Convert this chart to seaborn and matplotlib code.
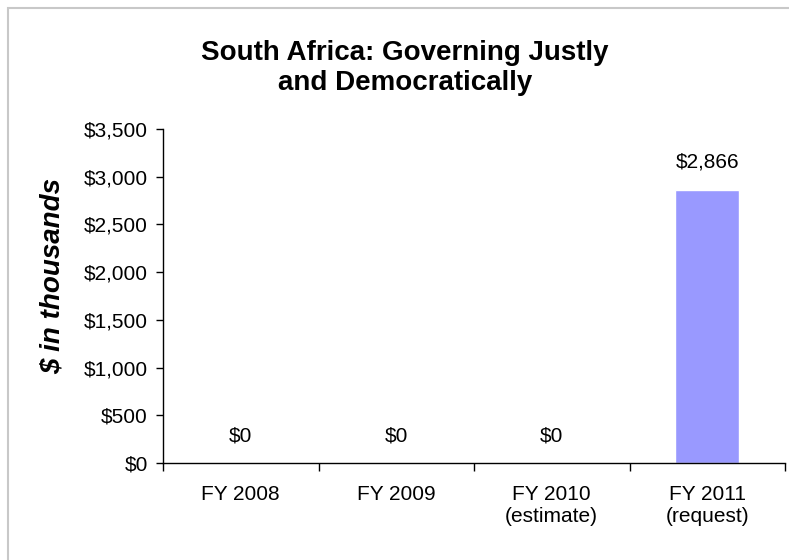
import numpy as np
import pandas as pd
import matplotlib
matplotlib.use('Agg')
import matplotlib.pyplot as plt
import seaborn as sns
from matplotlib.patches import Rectangle
from matplotlib.ticker import FuncFormatter

# chart data
categories = ['FY 2008', 'FY 2009', 'FY 2010\n(estimate)', 'FY 2011\n(request)']
values = [0, 0, 0, 2866]
value_labels = ['$0', '$0', '$0', '$2,866']

sns.set_style('white')
plt.rcParams['font.family'] = ['Liberation Sans', 'DejaVu Sans']
plt.rcParams['text.color'] = 'black'
plt.rcParams['axes.labelcolor'] = 'black'
plt.rcParams['xtick.color'] = 'black'
plt.rcParams['ytick.color'] = 'black'

df = pd.DataFrame({'category': categories, 'value': values})

fig = plt.figure(figsize=(7.89, 5.6), dpi=100)
ax = fig.add_axes([163 / 789, 1 - 463 / 560, (785 - 163) / 789, (463 - 129) / 560])

sns.barplot(data=df, x='category', y='value', color='#9999FF', saturation=1,
            width=0.41, ax=ax)

# value labels above the bars
for i, (v, lab) in enumerate(zip(values, value_labels)):
    ax.annotate(lab, (i, v), xytext=(0, 19.5), textcoords='offset points',
                ha='center', va='center', fontsize=15)

ax.set_xlim(-0.5, 3.5)
ax.set_ylim(0, 3500)
ax.set_yticks(np.arange(0, 3501, 500))
ax.yaxis.set_major_formatter(FuncFormatter(lambda v, p: f'${v:,.0f}'))
ax.set_xticks(np.arange(-0.5, 3.6, 1), minor=True)
ax.tick_params(axis='x', which='major', bottom=True, length=0, pad=16, labelsize=15)
ax.tick_params(axis='x', which='minor', bottom=True, length=6, direction='out', width=1)
ax.tick_params(axis='y', left=True, length=5, direction='out', width=1, labelsize=15, pad=6)
ax.set_xlabel('')
ax.set_ylabel('')

for s in ['top', 'right']:
    ax.spines[s].set_visible(False)
for s in ['left', 'bottom']:
    ax.spines[s].set_color('black')
    ax.spines[s].set_linewidth(1)

fig.text(53 / 789, 1 - 276 / 560, '$ in thousands', rotation=90, ha='center', va='center',
         fontsize=20, fontweight='bold', style='italic')

fig.text(405 / 789, 1 - 68 / 560, 'South Africa: Governing Justly\nand Democratically',
         ha='center', va='center', fontsize=20, fontweight='bold', linespacing=1.2)

# light border around the chart area
fig.patches.append(Rectangle((8 / 789, -0.05), 1.0, 1 - 8 / 560 + 0.05,
                             transform=fig.transFigure, fill=False,
                             edgecolor='#c8c8c8', linewidth=1.5))

fig.savefig('out.png', dpi=100)
